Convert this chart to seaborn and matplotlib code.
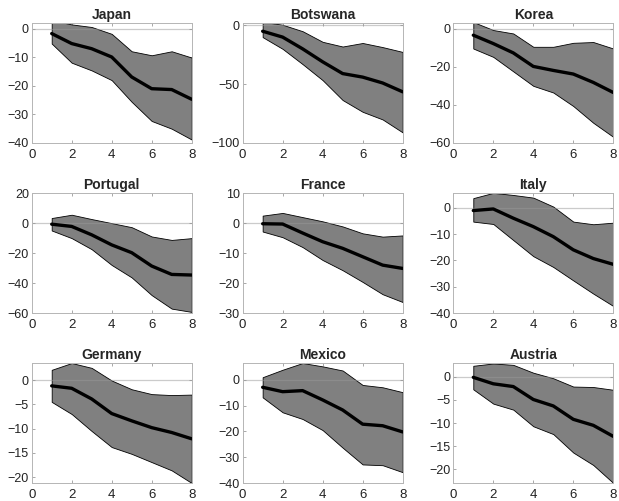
import matplotlib
matplotlib.use("Agg")
import matplotlib.pyplot as plt
import pandas as pd
import seaborn as sns

horizon = [1, 2, 3, 4, 5, 6, 7, 8]
countries = ["Japan", "Botswana", "Korea", "Portugal", "France", "Italy",
             "Germany", "Mexico", "Austria"]

# point estimate and band edges per country
japan_mid = [-1.7, -5.2, -7.0, -9.9, -16.9, -21.0, -21.3, -24.7]
japan_hi = [3.0, 1.5, 0.6, -1.8, -7.9, -9.3, -7.9, -10.1]
japan_lo = [-5.2, -11.9, -14.6, -18.0, -25.6, -32.3, -35.0, -38.8]

botswana_mid = [-5.0, -10.0, -20.0, -31.0, -41.0, -44.0, -49.0, -56.5]
botswana_hi = [3.0, 0.5, -5.0, -14.0, -18.0, -15.0, -18.5, -22.6]
botswana_lo = [-10.0, -20.0, -33.0, -46.6, -63.5, -73.5, -80.0, -91.0]

korea_mid = [-3.4, -7.8, -12.7, -19.8, -21.9, -23.8, -28.2, -33.5]
korea_hi = [3.5, -0.7, -2.5, -9.5, -9.5, -7.4, -7.0, -10.4]
korea_lo = [-10.4, -14.8, -22.4, -30.0, -33.5, -40.6, -49.4, -56.8]

portugal_mid = [-0.7, -2.2, -7.8, -14.5, -19.7, -28.6, -34.2, -34.6]
portugal_hi = [3.4, 5.6, 2.7, 0.0, -2.7, -8.9, -11.2, -10.0]
portugal_lo = [-4.9, -10.0, -17.4, -27.9, -36.2, -48.0, -57.0, -59.2]

france_mid = [-0.2, -0.3, -3.3, -6.2, -8.4, -11.2, -14.0, -15.1]
france_hi = [2.5, 3.4, 2.0, 0.6, -1.1, -3.4, -4.5, -4.1]
france_lo = [-2.8, -4.7, -8.0, -12.3, -15.7, -19.6, -23.7, -26.3]

italy_mid = [-1.1, -0.5, -4.0, -7.2, -11.0, -16.0, -19.3, -21.5]
italy_hi = [3.6, 5.6, 4.8, 3.8, 0.4, -5.3, -6.3, -5.7]
italy_lo = [-5.3, -6.2, -12.3, -18.4, -22.5, -27.6, -32.6, -37.3]

germany_mid = [-1.2, -1.7, -3.9, -6.9, -8.4, -9.8, -10.8, -12.1]
germany_hi = [2.1, 3.5, 2.5, -0.1, -1.9, -2.9, -3.1, -3.0]
germany_lo = [-4.5, -7.0, -10.5, -13.8, -15.2, -16.9, -18.6, -21.2]

mexico_mid = [-2.9, -4.6, -4.2, -7.8, -11.7, -17.2, -17.8, -20.2]
mexico_hi = [1.0, 3.9, 6.5, 5.2, 3.6, -2.0, -2.9, -4.8]
mexico_lo = [-6.8, -12.6, -15.2, -19.5, -26.3, -32.8, -33.1, -35.8]

austria_mid = [-0.1, -1.5, -2.1, -4.9, -6.3, -9.2, -10.5, -12.9]
austria_hi = [2.4, 2.9, 2.6, 0.9, -0.3, -2.1, -2.2, -2.8]
austria_lo = [-2.7, -5.8, -7.1, -10.7, -12.4, -16.4, -19.1, -23.0]

mids = [japan_mid, botswana_mid, korea_mid, portugal_mid, france_mid,
        italy_mid, germany_mid, mexico_mid, austria_mid]
his = [japan_hi, botswana_hi, korea_hi, portugal_hi, france_hi,
       italy_hi, germany_hi, mexico_hi, austria_hi]
los = [japan_lo, botswana_lo, korea_lo, portugal_lo, france_lo,
       italy_lo, germany_lo, mexico_lo, austria_lo]

y_limits = [(-40, 2), (-100, 2), (-60, 3), (-60, 20), (-30, 10), (-40, 5.5),
            (-21.2, 3.5), (-40, 6.5), (-23, 3)]
y_ticks = [[-40, -30, -20, -10, 0], [-100, -50, 0], [-60, -40, -20, 0],
           [-60, -40, -20, 0, 20], [-30, -20, -10, 0, 10], [-40, -30, -20, -10, 0],
           [-20, -15, -10, -5, 0], [-40, -30, -20, -10, 0], [-20, -15, -10, -5, 0]]

sns.set_theme(style="white")
plt.rcParams["font.family"] = ["Liberation Sans", "DejaVu Sans"]

fig = plt.figure(figsize=(6.19, 5.01), dpi=100)
lefts = [0.0512, 0.392, 0.7323]
bottoms = [0.7146, 0.375, 0.0359]
w, h = 0.2585, 0.2395

for i, name in enumerate(countries):
    ax = fig.add_axes([lefts[i % 3], bottoms[i // 3], w, h])
    df = pd.DataFrame({"h": horizon, "mid": mids[i], "hi": his[i], "lo": los[i]})
    ax.fill_between(df["h"], df["lo"], df["hi"], facecolor="#808080",
                    edgecolor="black", linewidth=0.6, zorder=1)
    ax.axhline(0, color="#999999", alpha=0.5, linewidth=0.9, zorder=2)
    sns.lineplot(data=df, x="h", y="mid", color="black", linewidth=2.4, ax=ax, zorder=3)
    ax.set_xlim(0, 8)
    ax.set_ylim(*y_limits[i])
    ax.set_xticks([0, 2, 4, 6, 8])
    ax.set_yticks(y_ticks[i])
    ax.set_xlabel("")
    ax.set_ylabel("")
    ax.set_title(name, fontsize=10, fontweight="bold", pad=3)
    ax.tick_params(direction="in", length=2.5, width=0.6, color="#9a9a9a",
                   labelsize=9, labelcolor="#222222", pad=2,
                   top=True, right=True, bottom=True, left=True)
    ax.tick_params(axis="x", labelsize=9.5, pad=4)
    for s in ax.spines.values():
        s.set_color("#b5b5b5")
        s.set_linewidth(0.7)

fig.savefig("out.png", dpi=100)
